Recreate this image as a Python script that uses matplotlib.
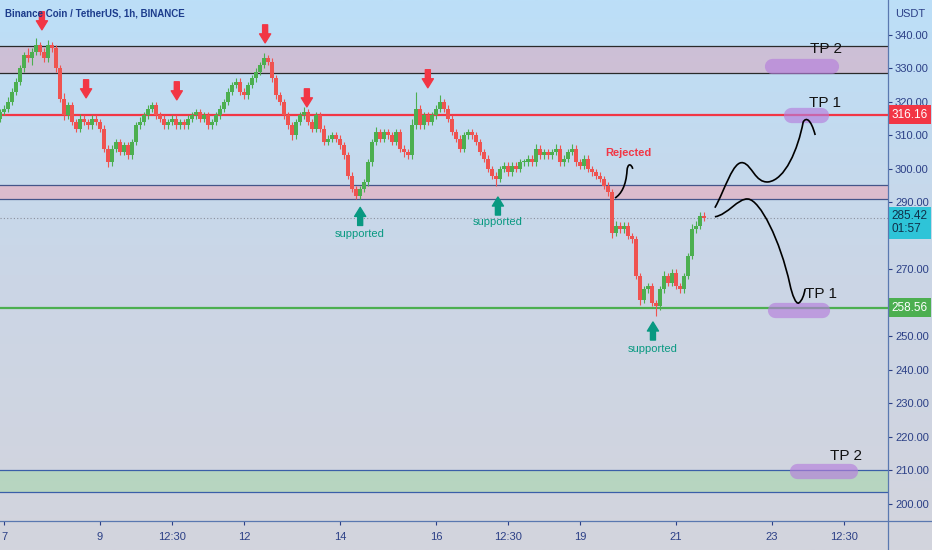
import numpy as np
import matplotlib.pyplot as plt
import matplotlib.transforms as mtransforms
from matplotlib.colors import LinearSegmentedColormap
from matplotlib.lines import Line2D
from matplotlib.path import Path
from matplotlib.patches import PathPatch

NARROW = ['Liberation Sans Narrow', 'Liberation Sans', 'DejaVu Sans']
NAVY = '#2b3f86'
RED = '#f23645'
GREEN = '#4caf50'
TEAL = '#089981'

# candles (2h steps, x = day of month)
start_day = 6.9167
step = 1 / 12
first_open = 315.0
closes = [
    317, 318, 320, 323, 326, 330, 334, 333, 335, 337, 335, 333,
    337, 336, 330, 321, 316, 319, 314, 312, 315, 314, 313, 315,
    314, 312, 306, 302, 306, 308, 305, 307, 304, 308, 313, 314,
    316, 318, 319, 316, 315, 313, 314, 315, 313, 314, 313, 315,
    316, 317, 315, 316, 313, 314, 316, 318, 320, 323, 325, 326,
    323, 322, 325, 327, 329, 331, 333, 332, 327, 322, 320, 316,
    313, 310, 314, 316, 317, 314, 312, 316, 312, 308, 309, 310,
    309, 307, 304, 298, 294, 292, 294, 296, 302, 308, 311, 309,
    311, 310, 308, 311, 306, 305, 304, 313, 318, 313, 316, 314,
    316, 318, 320, 318, 315, 311, 309, 306, 310, 311, 310, 308,
    305, 303, 300, 298, 297, 300, 301, 299, 301, 300, 302, 302,
    303, 302, 306, 304, 305, 304, 305, 306, 302, 303, 305, 306,
    302, 301, 303, 300, 299, 298, 297, 295, 293, 281, 283, 282,
    283, 280, 279, 268, 261, 264, 265, 260, 259, 264, 268, 266,
    269, 265, 264, 268, 274, 282, 283, 286, 285.4,
]
up_wick = [
    1, 1, 1.5, 1, 1, 1, 1, 2, 1, 2, 1, 1,
    1.5, 1, 1, 1, 1.5, 1, 1, 1, 1.5, 1, 1, 1,
    1, 1, 1, 1, 1, 1, 1, 1, 1, 1, 1, 1.5,
    1, 1, 1, 1, 1, 1, 1, 1, 1, 1, 1, 1,
    1, 1, 1, 1, 1, 1, 1, 1, 1, 1, 1, 1,
    1, 1, 1, 1, 1, 1, 1.5, 1, 1, 1, 1, 1,
    1, 1, 1, 1, 1.5, 1, 1, 1, 1, 1, 1, 1,
    1, 1, 1, 1, 1, 1, 1, 1, 1, 1, 1.5, 1,
    1, 1, 1, 1, 1, 1, 1, 2, 5, 1, 1, 1,
    1, 1, 2, 1, 1, 1, 1, 1, 1, 1, 1, 1,
    1, 1, 1, 1, 1, 1, 1, 1, 1, 1, 1, 1,
    1, 1, 1.5, 1, 1, 1, 1, 1.5, 1, 1, 1, 1.5,
    1, 1, 1, 1, 1, 1, 1, 1, 1, 1, 1.5, 1,
    1, 1, 1, 1, 1, 1, 1, 1, 1, 1, 1.5, 1,
    1, 1, 1, 1, 1, 1.5, 1.5, 1, 1,
]
dn_wick = [
    1, 1, 1, 1, 1, 1, 1, 1, 2, 1, 1, 1,
    1, 1, 1, 1, 1.5, 1, 1, 1, 1, 1, 1, 1,
    1, 1, 1, 1.5, 1, 1, 1, 1, 1, 1, 1, 1,
    1, 1, 1, 1, 1, 1, 1, 1, 1, 1, 1, 1,
    1, 1, 1, 1, 1, 1, 1, 1, 1, 1, 1, 1,
    1, 1, 1, 1, 1, 1, 1, 1, 1, 1, 1, 1,
    1, 1.5, 1, 1, 1, 1, 1, 1, 1, 1, 1, 1,
    1, 1, 1, 1, 1, 1, 1, 1, 1, 1, 1, 1,
    1, 1, 1, 1, 1, 1.5, 1, 1, 1, 1, 1, 1,
    1, 1, 1, 1, 1, 1, 1, 1, 1, 1, 1, 1,
    1, 1, 1, 1, 2, 1, 1, 1, 1, 1, 1, 1,
    1, 1, 1, 1, 1, 1, 1, 1, 1, 1, 1, 1,
    1, 1, 1, 1, 1, 1, 1, 1, 1, 1.5, 1, 1,
    1, 1, 1, 1, 1.5, 1, 1, 1, 3, 1, 1, 1,
    1, 1, 1, 1, 1, 1, 1, 1, 1,
]

# levels
zone_high = (328.7, 336.7)
zone_mid = (291.0, 295.2)
zone_low = (203.6, 210.1)
res_line = 316.16
sup_line = 258.56
last_price = 285.42

red_arrows = [(7.79, 341.5), (8.71, 321.2), (10.60, 320.6), (12.44, 337.6), (13.31, 318.5), (15.83, 324.2)]
green_arrows = [(14.42, 288.5), (17.29, 291.6), (20.52, 254.3)]
supported_pos = [(14.42, 280.5), (17.29, 284.0), (20.52, 246.2)]

tp_pills = [(23.01, 24.22, 330.7), (23.39, 24.03, 316.1), (23.06, 24.05, 257.9), (23.53, 24.63, 209.7)]
tp_labels = [('TP 2', 24.125, 335.8), ('TP 1', 24.10, 319.7), ('TP 1', 24.02, 262.7), ('TP 2', 24.54, 214.3)]

up_path = [(21.81, 288.4), (22.02, 293.7), (22.19, 302.7), (22.40, 301.8), (22.58, 301.2), (22.65, 295.8),
           (22.92, 296.1), (23.27, 296.7), (23.54, 305.7), (23.65, 314.0), (23.71, 315.5), (23.81, 314.9),
           (23.90, 310.1)]
down_path = [(21.81, 285.7), (22.08, 286.3), (22.29, 291.3), (22.50, 291.0), (22.75, 290.7), (23.17, 278.8),
             (23.375, 265.4), (23.42, 262.4), (23.50, 259.4), (23.56, 260.0), (23.625, 260.6), (23.67, 262.4),
             (23.69, 264.2)]
reject_path = [(19.73, 291.3), (19.86, 292.5), (19.96, 295.0), (19.98, 299.5), (19.99, 301.5), (20.06, 301.8),
               (20.10, 300.0)]

xtick_pos = [7, 9, 10.5, 12, 14, 16, 17.5, 19, 21, 23, 24.5]
xtick_lab = ['7', '9', '12:30', '12', '14', '16', '12:30', '19', '21', '23', '12:30']
ytick_pos = [200, 210, 220, 230, 240, 250, 270, 290, 300, 310, 320, 330, 340]

fig = plt.figure(figsize=(9.32, 5.5), dpi=100)

# gradient background
bg = fig.add_axes([0, 0, 1, 1], zorder=-5)
cmap = LinearSegmentedColormap.from_list('bg', ['#d3d4dd', '#cbd6e6', '#bcdff8'])
bg.imshow(np.linspace(0, 1, 256).reshape(-1, 1), aspect='auto', cmap=cmap,
          extent=[0, 1, 0, 1], origin='lower')
bg.axis('off')

ax = fig.add_axes([0, 29 / 550, 888 / 932, 521 / 550])
ax.set_facecolor('none')
ax.set_xlim(6.9167, 25.4167)
ax.set_ylim(194.9, 350.4)
for s in ax.spines.values():
    s.set_visible(False)

# zones
ax.axhspan(*zone_high, color='#d2b6cc', alpha=0.75, lw=0, zorder=1)
ax.axhspan(*zone_mid, color='#e4b3c4', alpha=0.75, lw=0, zorder=1)
ax.axhspan(*zone_low, color='#acd6b4', alpha=0.7, lw=0, zorder=1)
for v in zone_high:
    ax.axhline(v, color='#2a2a2a', lw=0.9, zorder=2)
for v in zone_mid:
    ax.axhline(v, color='#44558a', lw=0.9, zorder=2)
for v in zone_low:
    ax.axhline(v, color='#3a5fa8', lw=0.9, zorder=2)
ax.axhline(res_line, color=RED, lw=1.6, zorder=2)
ax.axhline(sup_line, color=GREEN, lw=1.6, zorder=2)
ax.axhline(last_price, color='#8a8f9c', lw=0.8, ls=(0, (1, 2)), zorder=2)

# candles
closes = np.array(closes, dtype=float)
opens = np.concatenate([[first_open], closes[:-1]])
highs = np.maximum(opens, closes) + np.array(up_wick)
lows = np.minimum(opens, closes) - np.array(dn_wick)
times = start_day + step * np.arange(len(closes))
colors = np.where(closes >= opens, GREEN, '#ef5350')
ax.vlines(times, lows, highs, colors=colors, lw=0.8, zorder=4)
ax.bar(times, np.maximum(np.abs(closes - opens), 0.3), bottom=np.minimum(opens, closes),
       width=0.065, color=colors, lw=0, zorder=5)

# arrows + labels
for d, v in red_arrows:
    ax.annotate('', xy=(d, v), xytext=(0, 13), textcoords='offset points', zorder=6,
                arrowprops=dict(arrowstyle='simple,head_length=0.65,head_width=0.8,tail_width=0.36',
                                color=RED, shrinkA=0, shrinkB=0, mutation_scale=10))
for d, v in green_arrows:
    ax.annotate('', xy=(d, v), xytext=(0, -13), textcoords='offset points', zorder=6,
                arrowprops=dict(arrowstyle='simple,head_length=0.65,head_width=0.8,tail_width=0.36',
                                color=TEAL, shrinkA=0, shrinkB=0, mutation_scale=10))
for d, v in supported_pos:
    ax.text(d, v, 'supported', color=TEAL, fontsize=8, family=NARROW, ha='center', va='center', zorder=6)
ax.text(20.0, 304.8, 'Rejected', color=RED, fontsize=8, family=NARROW, fontweight='bold',
        ha='center', va='center', zorder=6)

# hand drawn paths
for pts in (up_path, down_path, reject_path):
    codes = [Path.MOVETO] + [Path.CURVE4] * (len(pts) - 1)
    ax.add_patch(PathPatch(Path(pts, codes), fc='none', ec='black', lw=1.2, zorder=6))

# TP pills
for x0, x1, v in tp_pills:
    ax.plot([x0, x1], [v, v], color='#b57edc', alpha=0.65, lw=11, solid_capstyle='round', zorder=3)
for txt, d, v in tp_labels:
    ax.text(d, v, txt, fontsize=11, family=NARROW, color='#111111', ha='center', va='center', zorder=6)

# axes
ax.yaxis.tick_right()
ax.set_yticks(ytick_pos)
ax.set_yticklabels([f'{v:.2f}' for v in ytick_pos])
ax.set_xticks(xtick_pos)
ax.set_xticklabels(xtick_lab)
ax.tick_params(axis='y', length=3, color=NAVY, labelcolor=NAVY, labelsize=8, pad=2)
ax.tick_params(axis='x', length=3, color=NAVY, labelcolor=NAVY, labelsize=8, pad=5)
for lab in ax.get_xticklabels() + ax.get_yticklabels():
    lab.set_family(NARROW)

fig.add_artist(Line2D([888 / 932] * 2, [0, 1], color='#5a78b0', lw=0.9, transform=fig.transFigure))
fig.add_artist(Line2D([0, 1], [29 / 550] * 2, color='#5a78b0', lw=0.9, transform=fig.transFigure))

# price tags
tr = mtransforms.blended_transform_factory(ax.transAxes, ax.transData)
ax.text(1.004, res_line, '316.16', transform=tr, color='white', fontsize=8.5, family=NARROW, ha='left',
        va='center', clip_on=False, zorder=10, bbox=dict(boxstyle='square,pad=0.3', fc=RED, ec='none'))
ax.text(1.004, last_price - 1.5, '285.42\n01:57', transform=tr, color='#10304a', fontsize=8.5, family=NARROW,
        ha='left', va='center', linespacing=1.1, clip_on=False, zorder=10,
        bbox=dict(boxstyle='square,pad=0.3', fc='#2ec4d8', ec='none'))
ax.text(1.004, sup_line, '258.56', transform=tr, color='white', fontsize=8.5, family=NARROW, ha='left',
        va='center', clip_on=False, zorder=10, bbox=dict(boxstyle='square,pad=0.3', fc=GREEN, ec='none'))

fig.text(910 / 932, 1 - 14 / 550, 'USDT', color=NAVY, fontsize=8, family=NARROW, ha='center', va='center')
fig.text(5 / 932, 1 - 14 / 550, 'Binance Coin / TetherUS, 1h, BINANCE', color='#1c3c8c', fontsize=7,
         family=NARROW, fontweight='bold', ha='left', va='center')

fig.savefig('out.png', dpi=100)
